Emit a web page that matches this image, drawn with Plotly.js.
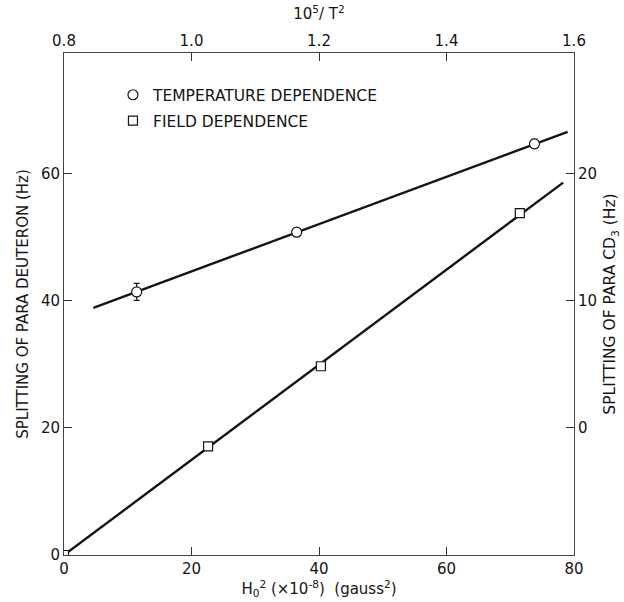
<!DOCTYPE html>
<html>
<head>
<meta charset="utf-8">
<script src="https://cdn.plot.ly/plotly-3.0.1.min.js"></script>
<style>html,body{margin:0;padding:0;background:#fff;}#chart{width:624px;height:602px;}</style>
</head>
<body>
<div id="chart"></div>
<script>
// Field dependence (bottom axis H0^2 x10^-8 gauss^2, left axis splitting of para deuteron, Hz)
var fieldH2 = [0, 22.6, 40.3, 71.5];
var fieldSplit = [0, 17.1, 29.7, 53.8];
var fieldFitH2 = [0, 78.3];
var fieldFitSplit = [0, 58.6];

// Temperature dependence (top axis 10^5/T^2, right axis splitting of para CD3, Hz)
var tempInvT2 = [0.914, 1.165, 1.538];
var tempSplitCD3 = [10.7, 15.4, 22.35];
var tempErr = [0.67, 0.3, 0.35];
var tempFitInvT2 = [0.846, 1.59];
var tempFitCD3 = [9.45, 23.3];

var bottomTicks = [0, 20, 40, 60, 80];
var topTicks = [0.8, 1.0, 1.2, 1.4, 1.6];
var topTickText = ['0.8', '1.0', '1.2', '1.4', '1.6'];
var leftTicks = [0, 20, 40, 60];
var rightTicks = [0, 10, 20];

var legendNames = ['TEMPERATURE DEPENDENCE', 'FIELD DEPENDENCE'];

var FONT = 'DejaVu Sans, Liberation Sans, sans-serif';
var INK = '#141414';

var traces = [
  {x: fieldFitH2, y: fieldFitSplit, mode: 'lines', xaxis: 'x', yaxis: 'y',
   line: {color: INK, width: 2.4}, showlegend: false, hoverinfo: 'skip'},
  {x: tempFitInvT2, y: tempFitCD3, mode: 'lines', xaxis: 'x2', yaxis: 'y2',
   line: {color: INK, width: 2.4}, showlegend: false, hoverinfo: 'skip'},
  {x: fieldH2, y: fieldSplit, mode: 'markers', xaxis: 'x', yaxis: 'y',
   name: legendNames[1], legend: 'legend2',
   marker: {symbol: 'square', size: 9, color: '#fff', line: {color: INK, width: 1.2}}},
  {x: tempInvT2, y: tempSplitCD3, mode: 'markers', xaxis: 'x2', yaxis: 'y2',
   name: legendNames[0], legend: 'legend',
   error_y: {type: 'data', array: tempErr, visible: true, color: INK, thickness: 1.2, width: 3},
   marker: {symbol: 'circle', size: 10, color: '#fff', line: {color: INK, width: 1.2}}}
];

var axisCommon = {
  showgrid: false, zeroline: false, showline: true, linecolor: '#444', linewidth: 1,
  ticks: 'inside', ticklen: 8, tickwidth: 1, tickcolor: '#333',
  tickfont: {family: FONT, size: 15, color: INK}
};

var layout = {
  width: 624, height: 602,
  margin: {l: 64, r: 50, t: 53, b: 47, autoexpand: false},
  paper_bgcolor: '#fff', plot_bgcolor: '#fff',
  font: {family: FONT, size: 15, color: INK},
  xaxis: Object.assign({}, axisCommon, {
    range: [0, 80], tickvals: bottomTicks, side: 'bottom', anchor: 'y',
    title: {text: 'H<sub>0</sub><sup>2</sup> (×10<sup>-8</sup>)  (gauss<sup>2</sup>)',
            font: {family: FONT, size: 15, color: INK}, standoff: 6}
  }),
  xaxis2: Object.assign({}, axisCommon, {
    range: [0.8, 1.6], tickvals: topTicks, ticktext: topTickText, side: 'top',
    overlaying: 'x', anchor: 'y',
    title: {text: '10<sup>5</sup>/ T<sup>2</sup>', font: {family: FONT, size: 15, color: INK}, standoff: 8}
  }),
  yaxis: Object.assign({}, axisCommon, {
    range: [0, 79], tickvals: leftTicks, side: 'left', anchor: 'x',
    title: {text: 'SPLITTING OF PARA DEUTERON (Hz)', font: {family: FONT, size: 15, color: INK}, standoff: 8}
  }),
  yaxis2: Object.assign({}, axisCommon, {
    range: [-10, 29.5], tickvals: rightTicks, side: 'right', overlaying: 'y', anchor: 'x',
    title: {text: 'SPLITTING OF PARA CD<sub>3</sub> (Hz)', font: {family: FONT, size: 15.5, color: INK}, standoff: 8}
  }),
  legend: {x: 0.096, y: 0.916, xanchor: 'left', yanchor: 'middle', bgcolor: 'rgba(0,0,0,0)',
           font: {family: FONT, size: 15.5, color: INK}, borderwidth: 0},
  legend2: {x: 0.096, y: 0.8645, xanchor: 'left', yanchor: 'middle', bgcolor: 'rgba(0,0,0,0)',
           font: {family: FONT, size: 15.5, color: INK}, borderwidth: 0}
};

Plotly.newPlot('chart', traces, layout, {staticPlot: true, displayModeBar: false});
</script>
</body>
</html>
